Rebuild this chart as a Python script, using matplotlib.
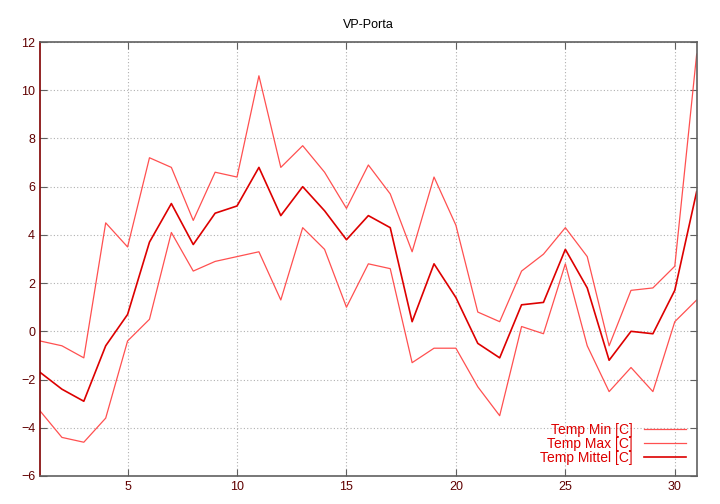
import matplotlib
matplotlib.use("Agg")
import matplotlib.pyplot as plt

plt.rcParams['font.family'] = ['Liberation Sans', 'DejaVu Sans']

days = list(range(1, 32))
temp_min = [-3.3, -4.4, -4.6, -3.6, -0.4, 0.5, 4.1, 2.5, 2.9, 3.1,
            3.3, 1.3, 4.3, 3.4, 1.0, 2.8, 2.6, -1.3, -0.7, -0.7,
            -2.3, -3.5, 0.2, -0.1, 2.8, -0.6, -2.5, -1.5, -2.5, 0.4, 1.3]
temp_max = [-0.4, -0.6, -1.1, 4.5, 3.5, 7.2, 6.8, 4.6, 6.6, 6.4,
            10.6, 6.8, 7.7, 6.6, 5.1, 6.9, 5.7, 3.3, 6.4, 4.4,
            0.8, 0.4, 2.5, 3.2, 4.3, 3.1, -0.6, 1.7, 1.8, 2.7, 11.5]
temp_mean = [-1.7, -2.4, -2.9, -0.6, 0.7, 3.7, 5.3, 3.6, 4.9, 5.2,
             6.8, 4.8, 6.0, 5.0, 3.8, 4.8, 4.3, 0.4, 2.8, 1.4,
             -0.5, -1.1, 1.1, 1.2, 3.4, 1.8, -1.2, 0.0, -0.1, 1.7, 5.8]

fig = plt.figure(figsize=(7.2, 5.04), dpi=100)
ax = fig.add_axes([0.0556, 0.0556, 0.912, 0.861])

ax.plot(days, temp_min, color="#ff5050", lw=0.9, label="Temp Min [C]")
ax.plot(days, temp_max, color="#ff5050", lw=0.9, label="Temp Max [C]")
ax.plot(days, temp_mean, color="#dd0000", lw=1.2, label="Temp Mittel [C]")

ax.set_xlim(1, 31)
ax.set_ylim(-6, 12)
ax.set_xticks([5, 10, 15, 20, 25, 30])
ax.set_yticks(range(-6, 13, 2))
ax.grid(True, color="#b0b0b0", linestyle=(0, (1, 2)), lw=0.8)

ax.tick_params(direction="in", top=True, right=True, length=5,
               color="#606060", labelcolor="#600000", labelsize=9)
for s in ["top", "bottom", "right"]:
    ax.spines[s].set_color("#606060")
    ax.spines[s].set_linewidth(1.2)
ax.spines["left"].set_color("#800000")
ax.spines["left"].set_linewidth(1.2)

ax.set_title("VP-Porta", fontsize=9, pad=10)

leg = ax.legend(loc="lower right", frameon=False, markerfirst=False,
                fontsize=10, labelcolor="#dd0000", handlelength=3.0,
                labelspacing=0.0, borderaxespad=0.4, handletextpad=0.8)

fig.savefig("out.png", dpi=100)
